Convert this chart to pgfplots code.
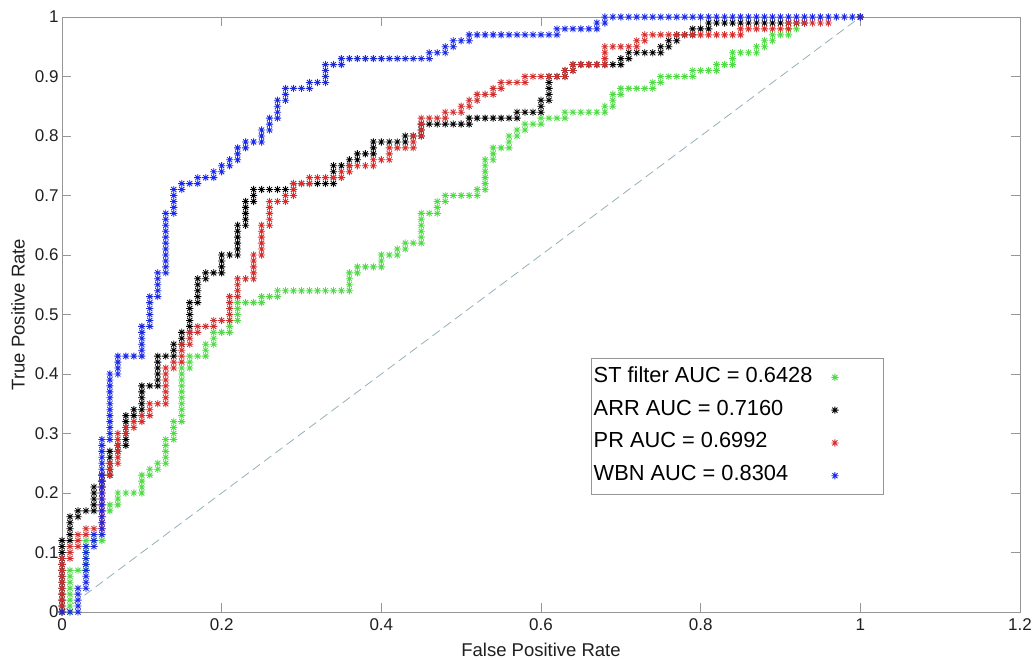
\documentclass[border=0pt]{standalone}
\usepackage{fontspec}
\setmainfont{Liberation Sans}
\usepackage{pgfplots}
\pgfplotsset{compat=1.18}
\definecolor{mgreen}{RGB}{80,218,70}
\definecolor{mblue}{RGB}{25,40,235}
\definecolor{mred}{RGB}{215,45,45}
\definecolor{axgray}{RGB}{150,150,150}
\definecolor{diagc}{RGB}{150,175,185}
\pgfdeclareplotmark{ast8}{%
  \pgfpathmoveto{\pgfqpoint{-\pgfplotmarksize}{0pt}}%
  \pgfpathlineto{\pgfqpoint{\pgfplotmarksize}{0pt}}%
  \pgfpathmoveto{\pgfqpoint{0pt}{-\pgfplotmarksize}}%
  \pgfpathlineto{\pgfqpoint{0pt}{\pgfplotmarksize}}%
  \pgfpathmoveto{\pgfqpoint{-.707\pgfplotmarksize}{-.707\pgfplotmarksize}}%
  \pgfpathlineto{\pgfqpoint{.707\pgfplotmarksize}{.707\pgfplotmarksize}}%
  \pgfpathmoveto{\pgfqpoint{-.707\pgfplotmarksize}{.707\pgfplotmarksize}}%
  \pgfpathlineto{\pgfqpoint{.707\pgfplotmarksize}{-.707\pgfplotmarksize}}%
  \pgfusepathqstroke}
\pgfplotsset{rocmark/.style={only marks, mark=ast8, mark size=3.6pt,
  mark options={line width=0.85pt},
  legend image code/.code={\path[draw=none,fill=none] (0pt,-3pt) rectangle (68pt,3pt);\draw[mark repeat=2,mark phase=2,##1] plot coordinates {(0pt,0pt)(21pt,0pt)(68pt,0pt)};}}}
\begin{document}
\begin{tikzpicture}
\useasboundingbox (-62pt,-48pt) rectangle (972pt,612pt);
\begin{axis}[
  scale only axis, width=958pt, height=595pt,
  xmin=0, xmax=1.2, ymin=0, ymax=1,
  xtick={0,0.2,0.4,0.6,0.8,1,1.2},
  ytick={0,0.1,0.2,0.3,0.4,0.5,0.6,0.7,0.8,0.9,1},
  tick align=inside, major tick length=9pt,
  axis line style={draw=axgray, line width=0.8pt},
  every tick/.style={axgray, line width=0.8pt},
  /pgf/number format/assume math mode=true,
  every tick label/.append style={font=\fontsize{17}{20}\selectfont, text=black!88},
  xticklabel style={yshift=-3pt},
  xlabel={False Positive Rate}, ylabel={True Positive Rate},
  label style={font=\fontsize{18.5}{22}\selectfont, text=black!88},
  xlabel style={at={(axis description cs:0.5,-0.0639)}, anchor=center},
  ylabel style={at={(axis description cs:-0.046,0.5)}, anchor=center},
  clip=false,
  legend plot pos=right,
  legend cell align=left,
  legend style={at={(rel axis cs:0.552,0.427)}, anchor=north west,
    draw=axgray, line width=0.8pt, fill=white,
    font=\fontsize{21.8}{26}\selectfont, text=black,
    inner xsep=1pt, inner ysep=7pt, row sep=8.8pt,
    nodes={inner xsep=1.5pt, inner ysep=1pt, text height=16pt, text depth=6pt}},
]
\addplot[diagc, line width=0.8pt, dash pattern=on 9pt off 5pt, forget plot] coordinates {(0,0)(1,1)};
% ST filter
\addplot[rocmark, color=mgreen] coordinates {
(0,0)
(0.01,0)(0.01,0.01)(0.01,0.02)(0.01,0.03)(0.01,0.04)(0.01,0.05)(0.01,0.06)(0.01,0.07)
(0.02,0.07)
(0.03,0.07)(0.03,0.08)(0.03,0.09)(0.03,0.10)(0.03,0.11)(0.03,0.12)
(0.04,0.12)(0.05,0.12)
(0.06,0.17)(0.06,0.18)
(0.07,0.18)(0.07,0.19)(0.07,0.20)
(0.08,0.20)(0.09,0.20)
(0.10,0.20)(0.10,0.21)(0.10,0.22)(0.10,0.23)
(0.11,0.23)(0.11,0.24)
(0.12,0.24)(0.12,0.25)
(0.13,0.25)(0.13,0.26)(0.13,0.27)(0.13,0.28)(0.13,0.29)
(0.14,0.29)(0.14,0.30)(0.14,0.31)(0.14,0.32)
(0.15,0.32)(0.15,0.33)(0.15,0.34)(0.15,0.35)(0.15,0.36)(0.15,0.37)(0.15,0.38)(0.15,0.39)(0.15,0.40)(0.15,0.41)
(0.16,0.41)(0.16,0.42)(0.16,0.43)
(0.17,0.43)
(0.18,0.43)(0.18,0.44)(0.18,0.45)
(0.19,0.45)(0.19,0.46)(0.19,0.47)
(0.20,0.47)
(0.21,0.47)(0.21,0.48)(0.21,0.49)
(0.22,0.49)(0.22,0.50)(0.22,0.51)(0.22,0.52)
(0.23,0.52)(0.24,0.52)
(0.25,0.52)(0.25,0.53)
(0.26,0.53)
(0.27,0.53)(0.27,0.54)
(0.28,0.54)(0.29,0.54)(0.30,0.54)(0.31,0.54)(0.32,0.54)(0.33,0.54)(0.34,0.54)(0.35,0.54)
(0.36,0.54)(0.36,0.55)(0.36,0.56)(0.36,0.57)
(0.37,0.57)(0.37,0.58)
(0.38,0.58)(0.39,0.58)
(0.40,0.58)(0.40,0.59)(0.40,0.60)
(0.41,0.60)
(0.42,0.60)(0.42,0.61)
(0.43,0.61)(0.43,0.62)
(0.44,0.62)
(0.45,0.62)(0.45,0.63)(0.45,0.64)(0.45,0.65)(0.45,0.66)(0.45,0.67)
(0.46,0.67)
(0.47,0.67)(0.47,0.68)(0.47,0.69)
(0.48,0.69)(0.48,0.70)
(0.49,0.70)(0.50,0.70)(0.51,0.70)
(0.52,0.70)(0.52,0.71)
(0.53,0.71)(0.53,0.72)(0.53,0.73)(0.53,0.74)(0.53,0.75)(0.53,0.76)
(0.54,0.76)(0.54,0.77)(0.54,0.78)
(0.55,0.78)
(0.56,0.78)(0.56,0.79)(0.56,0.80)
(0.57,0.80)(0.57,0.81)
(0.58,0.81)(0.58,0.82)
(0.59,0.82)
(0.60,0.82)(0.60,0.83)
(0.61,0.83)(0.62,0.83)
(0.63,0.83)(0.63,0.84)
(0.64,0.84)(0.65,0.84)(0.66,0.84)(0.67,0.84)
(0.68,0.84)(0.68,0.85)
(0.69,0.85)(0.69,0.86)(0.69,0.87)
(0.70,0.87)(0.70,0.88)
(0.71,0.88)(0.72,0.88)(0.73,0.88)
(0.74,0.88)(0.74,0.89)
(0.75,0.89)(0.75,0.90)
(0.76,0.90)(0.77,0.90)(0.78,0.90)
(0.79,0.90)(0.79,0.91)
(0.80,0.91)(0.81,0.91)
(0.82,0.91)(0.82,0.92)
(0.83,0.92)
(0.84,0.92)(0.84,0.93)(0.84,0.94)
(0.85,0.94)(0.86,0.94)
(0.87,0.94)(0.87,0.95)
(0.88,0.95)(0.88,0.96)
(0.89,0.96)(0.89,0.97)
(0.90,0.97)
(0.91,0.97)(0.91,0.98)
(0.92,0.98)
(1,1)
};
\addlegendentry{ST filter AUC = 0.6428}
% ARR
\addplot[rocmark, color=black] coordinates {
(0,0)(0,0.01)(0,0.02)(0,0.03)(0,0.04)(0,0.05)(0,0.06)(0,0.07)(0,0.08)(0,0.09)(0,0.10)(0,0.11)(0,0.12)
(0.01,0.12)(0.01,0.13)(0.01,0.14)(0.01,0.15)(0.01,0.16)
(0.02,0.16)(0.02,0.17)
(0.03,0.17)
(0.04,0.17)(0.04,0.18)(0.04,0.19)(0.04,0.20)(0.04,0.21)
(0.05,0.21)(0.05,0.22)(0.05,0.23)
(0.06,0.23)(0.06,0.24)(0.06,0.25)(0.06,0.26)(0.06,0.27)
(0.07,0.27)(0.07,0.28)
(0.08,0.28)(0.08,0.29)(0.08,0.30)(0.08,0.31)(0.08,0.32)(0.08,0.33)
(0.09,0.33)(0.09,0.34)
(0.10,0.34)(0.10,0.35)(0.10,0.36)(0.10,0.37)(0.10,0.38)
(0.11,0.38)
(0.12,0.38)(0.12,0.39)(0.12,0.40)(0.12,0.41)(0.12,0.42)(0.12,0.43)
(0.13,0.43)
(0.14,0.43)(0.14,0.44)(0.14,0.45)
(0.15,0.45)(0.15,0.46)(0.15,0.47)
(0.16,0.47)(0.16,0.48)(0.16,0.49)(0.16,0.50)(0.16,0.51)(0.16,0.52)
(0.17,0.52)(0.17,0.53)(0.17,0.54)(0.17,0.55)(0.17,0.56)
(0.18,0.56)(0.18,0.57)
(0.19,0.57)
(0.20,0.57)(0.20,0.58)(0.20,0.59)(0.20,0.60)
(0.21,0.60)
(0.22,0.60)(0.22,0.61)(0.22,0.62)(0.22,0.63)(0.22,0.64)(0.22,0.65)
(0.23,0.65)(0.23,0.66)(0.23,0.67)(0.23,0.68)(0.23,0.69)
(0.24,0.69)(0.24,0.70)(0.24,0.71)
(0.25,0.71)(0.26,0.71)(0.27,0.71)(0.28,0.71)
(0.29,0.71)(0.29,0.72)
(0.30,0.72)(0.31,0.72)(0.32,0.72)(0.33,0.72)
(0.34,0.72)(0.34,0.73)(0.34,0.74)(0.34,0.75)
(0.35,0.75)
(0.36,0.75)(0.36,0.76)
(0.37,0.76)(0.37,0.77)
(0.38,0.77)
(0.39,0.77)(0.39,0.78)(0.39,0.79)
(0.40,0.79)(0.41,0.79)(0.42,0.79)
(0.43,0.79)(0.43,0.80)
(0.44,0.80)
(0.45,0.80)(0.45,0.81)(0.45,0.82)
(0.46,0.82)(0.47,0.82)(0.48,0.82)(0.49,0.82)(0.50,0.82)
(0.51,0.82)(0.51,0.83)
(0.52,0.83)(0.53,0.83)(0.54,0.83)(0.55,0.83)(0.56,0.83)
(0.57,0.83)(0.57,0.84)
(0.58,0.84)(0.59,0.84)
(0.60,0.84)(0.60,0.85)(0.60,0.86)
(0.61,0.86)(0.61,0.87)(0.61,0.88)(0.61,0.89)(0.61,0.90)
(0.62,0.90)
(0.63,0.90)(0.63,0.91)
(0.64,0.91)(0.64,0.92)
(0.65,0.92)(0.66,0.92)(0.67,0.92)(0.68,0.92)(0.69,0.92)
(0.70,0.92)(0.70,0.93)
(0.71,0.93)(0.71,0.94)
(0.72,0.94)(0.73,0.94)(0.74,0.94)
(0.75,0.94)(0.75,0.95)
(0.76,0.95)(0.76,0.96)
(0.77,0.96)(0.77,0.97)
(0.78,0.97)
(0.79,0.97)(0.79,0.98)
(0.80,0.98)
(0.81,0.98)(0.81,0.99)
(0.82,0.99)(0.83,0.99)(0.84,0.99)(0.85,0.99)(0.86,0.99)(0.87,0.99)(0.88,0.99)(0.89,0.99)(0.90,0.99)(0.91,0.99)(0.92,0.99)(0.93,0.99)
(1,1)
};
\addlegendentry{ARR AUC = 0.7160}
% PR
\addplot[rocmark, color=mred] coordinates {
(0,0)(0,0.01)(0,0.02)(0,0.03)(0,0.04)(0,0.05)(0,0.06)(0,0.07)(0,0.08)(0,0.09)
(0.01,0.09)(0.01,0.10)(0.01,0.11)
(0.02,0.11)(0.02,0.12)(0.02,0.13)
(0.03,0.13)(0.03,0.14)
(0.04,0.14)
(0.05,0.14)(0.05,0.15)(0.05,0.16)(0.05,0.17)(0.05,0.18)(0.05,0.19)(0.05,0.20)(0.05,0.21)(0.05,0.22)(0.05,0.23)
(0.06,0.23)(0.06,0.24)(0.06,0.25)
(0.07,0.25)(0.07,0.26)(0.07,0.27)(0.07,0.28)(0.07,0.29)(0.07,0.30)
(0.08,0.30)(0.08,0.31)
(0.09,0.31)(0.09,0.32)
(0.10,0.32)(0.10,0.33)
(0.11,0.33)(0.11,0.34)(0.11,0.35)
(0.12,0.35)
(0.13,0.35)(0.13,0.36)(0.13,0.37)(0.13,0.38)(0.13,0.39)(0.13,0.40)(0.13,0.41)
(0.14,0.41)(0.14,0.42)
(0.15,0.42)(0.15,0.43)(0.15,0.44)(0.15,0.45)
(0.16,0.45)(0.16,0.46)(0.16,0.47)
(0.17,0.47)(0.17,0.48)
(0.18,0.48)
(0.19,0.48)(0.19,0.49)
(0.20,0.49)
(0.21,0.49)(0.21,0.50)(0.21,0.51)(0.21,0.52)(0.21,0.53)
(0.22,0.53)(0.22,0.54)(0.22,0.55)(0.22,0.56)
(0.23,0.56)
(0.24,0.56)(0.24,0.57)(0.24,0.58)(0.24,0.59)(0.24,0.60)
(0.25,0.60)(0.25,0.61)(0.25,0.62)(0.25,0.63)(0.25,0.64)(0.25,0.65)
(0.26,0.65)(0.26,0.66)(0.26,0.67)(0.26,0.68)(0.26,0.69)
(0.27,0.69)
(0.28,0.69)(0.28,0.70)
(0.29,0.70)(0.29,0.71)(0.29,0.72)
(0.30,0.72)
(0.31,0.72)(0.31,0.73)
(0.32,0.73)(0.33,0.73)(0.34,0.73)
(0.35,0.73)(0.35,0.74)
(0.36,0.74)(0.36,0.75)
(0.37,0.75)(0.38,0.75)
(0.39,0.75)(0.39,0.76)
(0.40,0.76)
(0.41,0.76)(0.41,0.77)(0.41,0.78)
(0.42,0.78)(0.43,0.78)
(0.44,0.78)(0.44,0.79)(0.44,0.80)
(0.45,0.80)(0.45,0.81)(0.45,0.82)(0.45,0.83)
(0.46,0.83)(0.47,0.83)
(0.48,0.83)(0.48,0.84)
(0.49,0.84)
(0.50,0.84)(0.50,0.85)
(0.51,0.85)(0.51,0.86)
(0.52,0.86)(0.52,0.87)
(0.53,0.87)
(0.54,0.87)(0.54,0.88)
(0.55,0.88)(0.55,0.89)
(0.56,0.89)(0.57,0.89)
(0.58,0.89)(0.58,0.90)
(0.59,0.90)(0.60,0.90)(0.61,0.90)(0.62,0.90)
(0.63,0.90)(0.63,0.91)
(0.64,0.91)(0.64,0.92)
(0.65,0.92)(0.66,0.92)(0.67,0.92)
(0.68,0.92)(0.68,0.93)(0.68,0.94)(0.68,0.95)
(0.69,0.95)(0.70,0.95)(0.71,0.95)
(0.72,0.95)(0.72,0.96)
(0.73,0.96)(0.73,0.97)
(0.74,0.97)(0.75,0.97)(0.76,0.97)(0.77,0.97)(0.78,0.97)(0.79,0.97)(0.80,0.97)(0.81,0.97)(0.82,0.97)(0.83,0.97)(0.84,0.97)
(0.85,0.97)(0.85,0.98)
(0.86,0.98)(0.87,0.98)(0.88,0.98)(0.89,0.98)(0.90,0.98)
(0.91,0.98)(0.91,0.99)
(0.92,0.99)(0.93,0.99)(0.94,0.99)(0.95,0.99)(0.96,0.99)
(1,1)
};
\addlegendentry{PR AUC = 0.6992}
% WBN
\addplot[rocmark, color=mblue] coordinates {
(0,0)(0.01,0)
(0.02,0)(0.02,0.01)(0.02,0.02)(0.02,0.03)(0.02,0.04)
(0.03,0.04)(0.03,0.05)(0.03,0.06)(0.03,0.07)(0.03,0.08)(0.03,0.09)(0.03,0.10)(0.03,0.11)
(0.04,0.11)(0.04,0.12)(0.04,0.13)
(0.05,0.13)(0.05,0.14)(0.05,0.15)(0.05,0.16)(0.05,0.17)(0.05,0.18)(0.05,0.19)(0.05,0.20)(0.05,0.21)(0.05,0.22)(0.05,0.23)(0.05,0.24)(0.05,0.25)(0.05,0.26)(0.05,0.27)(0.05,0.28)(0.05,0.29)
(0.06,0.29)(0.06,0.30)(0.06,0.31)(0.06,0.32)(0.06,0.33)(0.06,0.34)(0.06,0.35)(0.06,0.36)(0.06,0.37)(0.06,0.38)(0.06,0.39)(0.06,0.40)
(0.07,0.40)(0.07,0.41)(0.07,0.42)(0.07,0.43)
(0.08,0.43)(0.09,0.43)
(0.10,0.43)(0.10,0.44)(0.10,0.45)(0.10,0.46)(0.10,0.47)(0.10,0.48)
(0.11,0.48)(0.11,0.49)(0.11,0.50)(0.11,0.51)(0.11,0.52)(0.11,0.53)
(0.12,0.53)(0.12,0.54)(0.12,0.55)(0.12,0.56)(0.12,0.57)
(0.13,0.57)(0.13,0.58)(0.13,0.59)(0.13,0.60)(0.13,0.61)(0.13,0.62)(0.13,0.63)(0.13,0.64)(0.13,0.65)(0.13,0.66)(0.13,0.67)
(0.14,0.67)(0.14,0.68)(0.14,0.69)(0.14,0.70)(0.14,0.71)
(0.15,0.71)(0.15,0.72)
(0.16,0.72)
(0.17,0.72)(0.17,0.73)
(0.18,0.73)
(0.19,0.73)(0.19,0.74)
(0.20,0.74)(0.20,0.75)
(0.21,0.75)(0.21,0.76)
(0.22,0.76)(0.22,0.77)(0.22,0.78)
(0.23,0.78)(0.23,0.79)
(0.24,0.79)
(0.25,0.79)(0.25,0.80)(0.25,0.81)
(0.26,0.81)(0.26,0.82)(0.26,0.83)
(0.27,0.83)(0.27,0.84)(0.27,0.85)(0.27,0.86)
(0.28,0.86)(0.28,0.87)(0.28,0.88)
(0.29,0.88)(0.30,0.88)
(0.31,0.88)(0.31,0.89)
(0.32,0.89)
(0.33,0.89)(0.33,0.90)(0.33,0.91)(0.33,0.92)
(0.34,0.92)
(0.35,0.92)(0.35,0.93)
(0.36,0.93)(0.37,0.93)(0.38,0.93)(0.39,0.93)(0.40,0.93)(0.41,0.93)(0.42,0.93)(0.43,0.93)(0.44,0.93)(0.45,0.93)
(0.46,0.93)(0.46,0.94)
(0.47,0.94)
(0.48,0.94)(0.48,0.95)
(0.49,0.95)(0.49,0.96)
(0.50,0.96)
(0.51,0.96)(0.51,0.97)
(0.52,0.97)(0.53,0.97)(0.54,0.97)(0.55,0.97)(0.56,0.97)(0.57,0.97)(0.58,0.97)(0.59,0.97)(0.60,0.97)(0.61,0.97)
(0.62,0.97)(0.62,0.98)
(0.63,0.98)(0.64,0.98)(0.65,0.98)(0.66,0.98)
(0.67,0.98)(0.67,0.99)
(0.68,0.99)(0.68,1)
(0.69,1)(0.70,1)(0.71,1)(0.72,1)(0.73,1)(0.74,1)(0.75,1)(0.76,1)(0.77,1)(0.78,1)(0.79,1)(0.80,1)
(0.81,1)(0.82,1)(0.83,1)(0.84,1)(0.85,1)(0.86,1)(0.87,1)(0.88,1)(0.89,1)(0.90,1)
(0.91,1)(0.92,1)(0.93,1)(0.94,1)(0.95,1)(0.96,1)(0.97,1)(0.98,1)(0.99,1)(1,1)
};
\addlegendentry{WBN AUC = 0.8304}
\end{axis}
\end{tikzpicture}
\end{document}
